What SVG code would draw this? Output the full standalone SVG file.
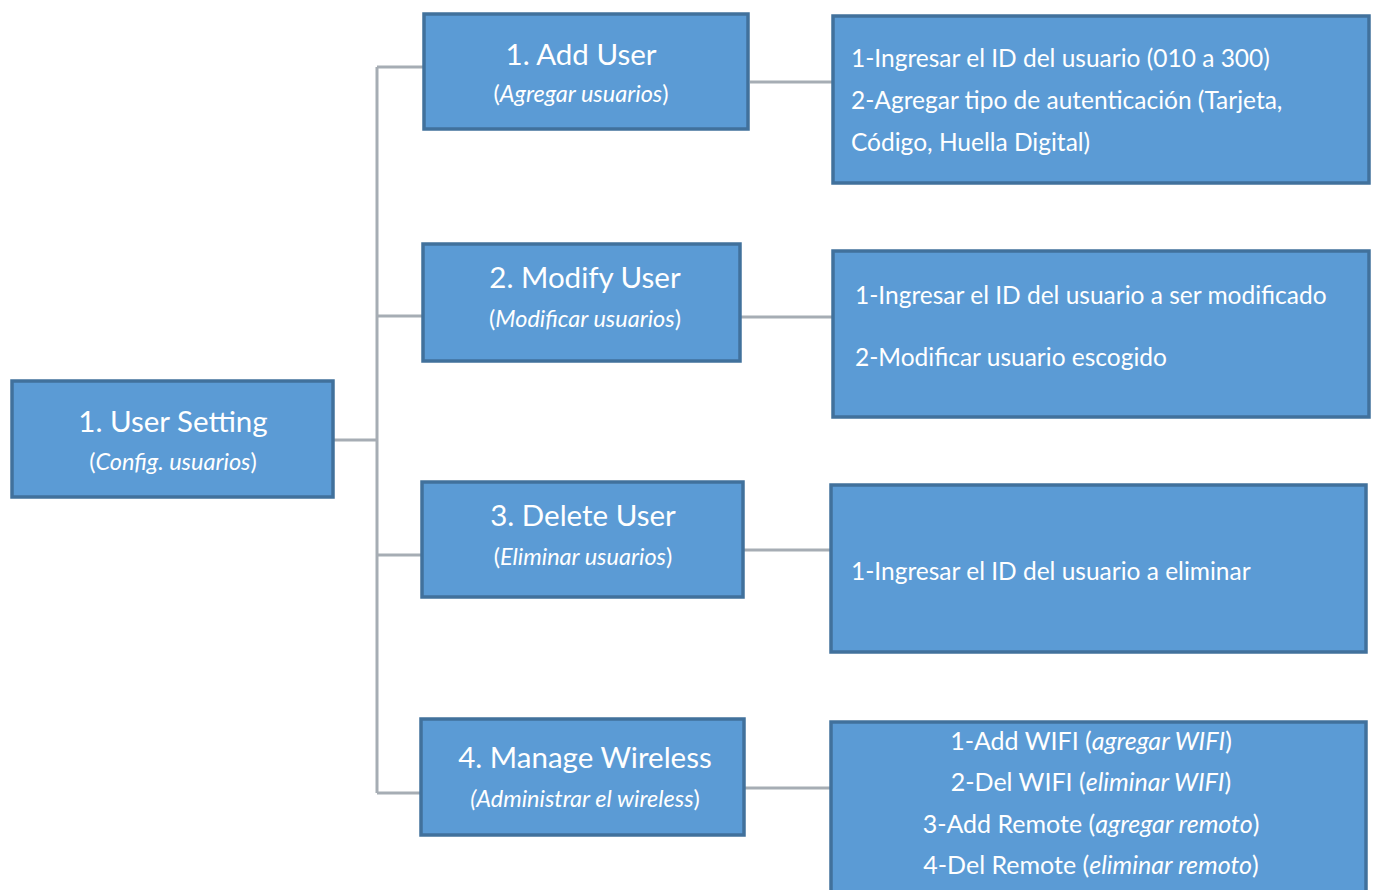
<svg xmlns="http://www.w3.org/2000/svg" width="1378" height="890" viewBox="0 0 1378 890">
<style>
.box{fill:#5b9bd5;stroke:#41719c;stroke-width:3.5}
.t{font-family:Lato,"Open Sans","Liberation Sans",sans-serif;fill:#ffffff}
.h{font-size:29.5px;text-anchor:middle}
.s{font-size:23.5px;text-anchor:middle}
.b{font-size:24.5px}
.c{font-size:25px;text-anchor:middle}
.i{font-style:italic}
.ln{stroke:#a6adb4;stroke-width:3;fill:none}
</style>
<rect width="1378" height="890" fill="#ffffff"/>
<g id="connectors">
<path class="ln" d="M334,440 H377 M377,67 V793 M377,67 H423 M377,316 H422 M377,555 H421 M377,793 H420"/>
<path class="ln" d="M750,82 H832 M740,317 H832 M744,550 H830 M745,788 H830"/>
</g>
<g id="root">
<rect class="box" x="12" y="381" width="321" height="116"/>
<text class="t h" x="173" y="432">1. User Setting</text>
<text class="t s" x="173" y="470">(<tspan class="i">Config. usuarios</tspan>)</text>
</g>
<g id="add-user">
<rect class="box" x="424" y="14" width="324" height="115"/>
<text class="t h" x="581" y="65">1. Add User</text>
<text class="t s" x="581" y="102">(<tspan class="i">Agregar usuarios</tspan>)</text>
</g>
<g id="modify-user">
<rect class="box" x="423" y="244" width="317" height="117"/>
<text class="t h" x="585" y="288">2. Modify User</text>
<text class="t s" x="585" y="327">(<tspan class="i">Modificar usuarios</tspan>)</text>
</g>
<g id="delete-user">
<rect class="box" x="422" y="482" width="321" height="115"/>
<text class="t h" x="583" y="526">3. Delete User</text>
<text class="t s" x="583" y="565">(<tspan class="i">Eliminar usuarios</tspan>)</text>
</g>
<g id="manage-wireless">
<rect class="box" x="421" y="719" width="323" height="116"/>
<text class="t h" x="585" y="768">4. Manage Wireless</text>
<text class="t s" x="585" y="807"><tspan class="i">(Administrar el wireless</tspan>)</text>
</g>
<g id="add-user-steps">
<rect class="box" x="833" y="16" width="536" height="167"/>
<text class="t b" x="851" y="67">1-Ingresar el ID del usuario (010 a 300)</text>
<text class="t b" x="851" y="109">2-Agregar tipo de autenticación (Tarjeta,</text>
<text class="t b" x="851" y="151">Código, Huella Digital)</text>
</g>
<g id="modify-user-steps">
<rect class="box" x="833" y="251" width="536" height="166"/>
<text class="t b" x="855" y="304">1-Ingresar el ID del usuario a ser modificado</text>
<text class="t b" x="855" y="366">2-Modificar usuario escogido</text>
</g>
<g id="delete-user-steps">
<rect class="box" x="831" y="485" width="535" height="167"/>
<text class="t b" x="851" y="580">1-Ingresar el ID del usuario a eliminar</text>
</g>
<g id="wireless-steps">
<rect class="box" x="831" y="722" width="535" height="170"/>
<text class="t c" x="1091" y="750">1-Add WIFI (<tspan class="i">agregar WIFI</tspan>)</text>
<text class="t c" x="1091" y="791">2-Del WIFI (<tspan class="i">eliminar WIFI</tspan>)</text>
<text class="t c" x="1091" y="833">3-Add Remote (<tspan class="i">agregar remoto</tspan>)</text>
<text class="t c" x="1091" y="874">4-Del Remote (<tspan class="i">eliminar remoto</tspan>)</text>
</g>
</svg>
